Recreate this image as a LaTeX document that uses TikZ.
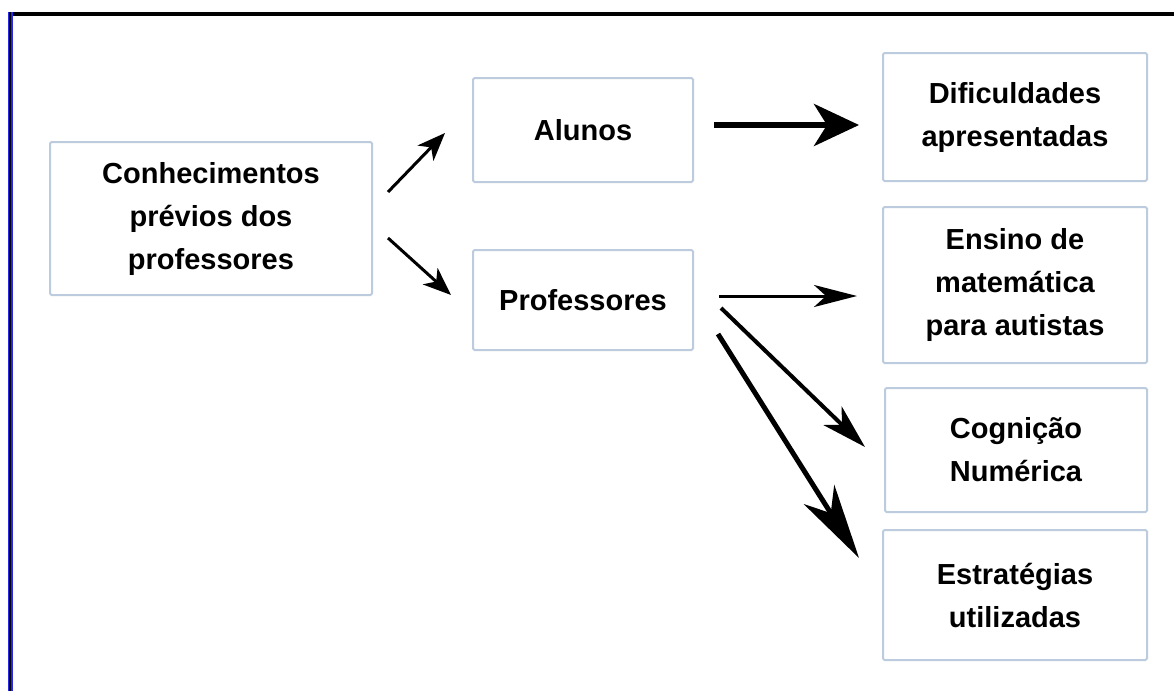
\documentclass[tikz,border=0pt]{standalone}
\usepackage{fontspec}
\setmainfont{Liberation Sans}
\usetikzlibrary{arrows.meta,calc}
\definecolor{boxline}{RGB}{188,203,222}
\definecolor{frameblue}{RGB}{40,40,235}
\begin{document}
\begin{tikzpicture}[x=1pt,y=-1pt,
  box/.style={draw=boxline, line width=2pt, fill=white, rounded corners=1.5pt,
    align=center, inner sep=0pt, font=\fontsize{29}{43}\selectfont\bfseries},
  link/.style={line width=3pt, -{Stealth[length=28pt,width=22pt,inset=8pt]}},
  heavy/.style={line width=6pt, -{Stealth[length=45pt,width=42pt,inset=13pt]}},
  long/.style={line width=3pt, -{Stealth[length=43pt,width=22pt,inset=12pt]}},
  mid/.style={line width=4pt, -{Stealth[length=45pt,width=26pt,inset=13pt]}},
  big/.style={line width=5pt, -{Stealth[length=75pt,width=36pt,inset=22pt]}}
]
\useasboundingbox (0,0) rectangle (1174,691);
\fill[white] (0,0) rectangle (1174,691);

% frame edges
\draw[line width=4pt] (8,14) -- (1174,14);
\draw[frameblue, line width=5pt] (10,12) -- (10,691);
\draw[black, line width=2pt] (10,12) -- (10,691);

% boxes
\node[box, minimum width=322pt, minimum height=153pt] (conh) at (211,218.5)
  {Conhecimentos\\prévios dos\\professores};
\node[box, minimum width=220pt, minimum height=104pt] (alunos) at (583,130) {Alunos};
\node[box, minimum width=220pt, minimum height=100pt] (prof) at (583,300) {Professores};
\node[box, minimum width=264pt, minimum height=128pt] (dif) at (1015,117)
  {Dificuldades\\apresentadas};
\node[box, minimum width=264pt, minimum height=156pt] (ens) at (1015,285)
  {Ensino de\\matemática\\para autistas};
\node[box, minimum width=262pt, minimum height=124pt] (cog) at (1016,450)
  {Cognição\\Numérica};
\node[box, minimum width=264pt, minimum height=130pt] (est) at (1015,595)
  {Estratégias\\utilizadas};

% connectors
\draw[link] ($(conh.east)+(15,-26.5)$) -- ($(alunos.west)+(-27,3)$);
\draw[link] ($(conh.east)+(15,19.5)$) -- ($(prof.west)+(-21,-5)$);
\draw[heavy] ($(alunos.east)+(20,-5)$) -- ($(dif.west)+(-23,8)$);
\draw[long] ($(prof.east)+(25,-4)$) -- ($(ens.west)+(-25,11)$);
\draw[mid] ($(prof.east)+(27,8)$) -- ($(cog.west)+(-19,-3)$);
\draw[big] ($(prof.east)+(24,34)$) -- ($(est.west)+(-23,-37)$);
\end{tikzpicture}
\end{document}
